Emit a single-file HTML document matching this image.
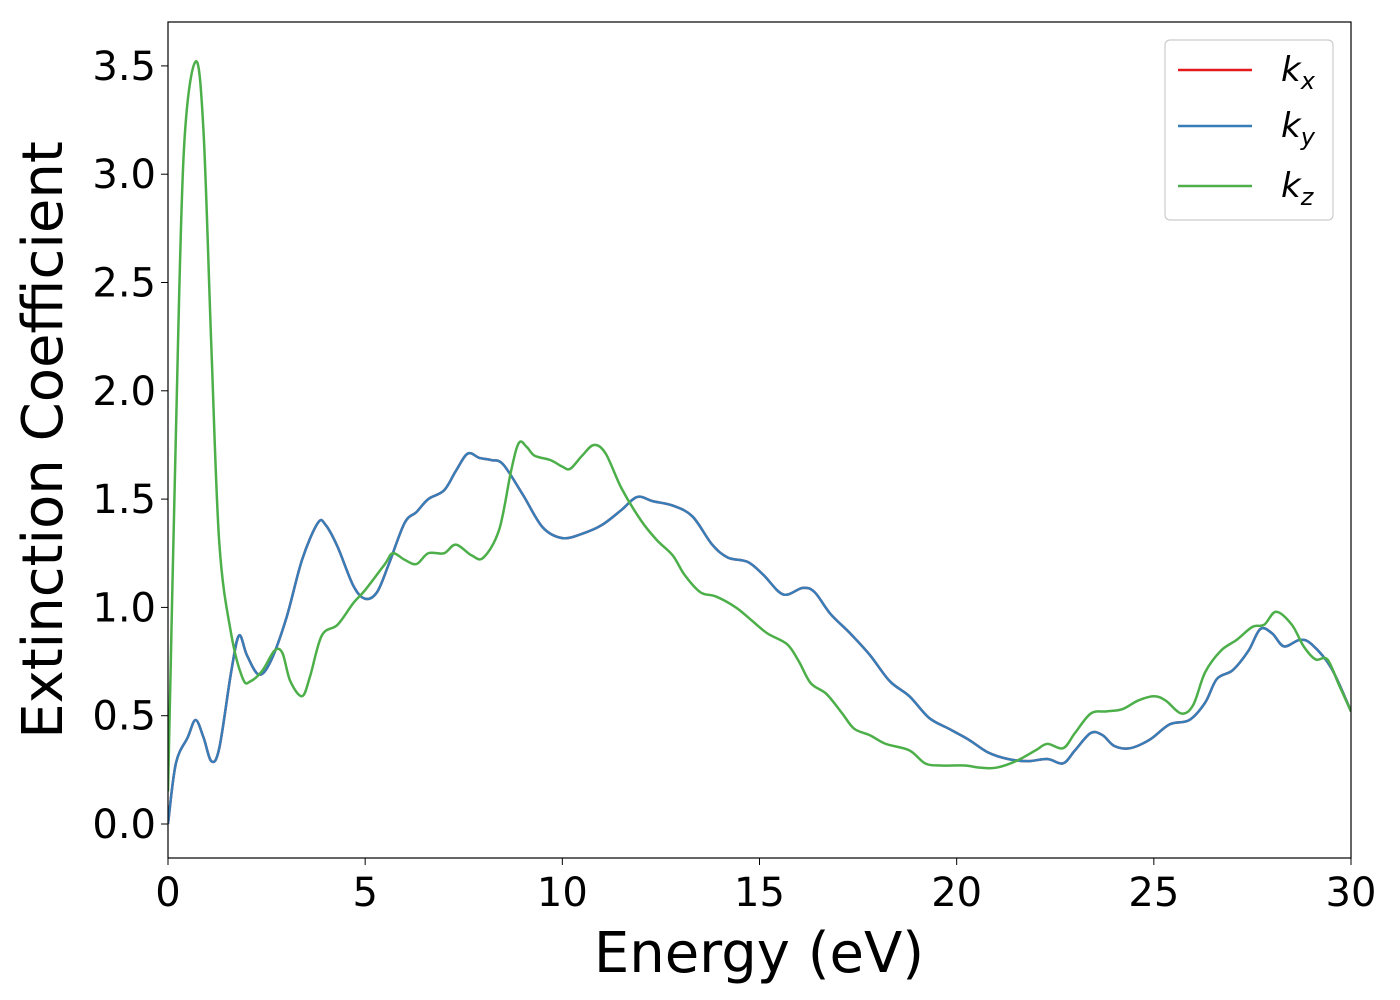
<!DOCTYPE html>
<html><head><meta charset="utf-8"><style>
html,body{margin:0;padding:0;background:#fff;}
svg{display:block;font-family:"DejaVu Sans","Liberation Sans",sans-serif;}
</style></head><body>
<svg id="chart" width="1400" height="1000" viewBox="0 0 1400 1000">
<rect x="0" y="0" width="1400" height="1000" fill="#fff"/>
<g id="plot"></g>
<rect x="168" y="22" width="1183" height="836" fill="none" stroke="#000" stroke-width="1.2"/>
<g id="xticks"></g>
<g id="yticks"></g>
<text x="759" y="972" font-size="56" text-anchor="middle">Energy (eV)</text>
<text x="0" y="0" font-size="56" text-anchor="middle" transform="translate(62,440) rotate(-90)">Extinction Coefficient</text>
<g>
<rect x="1165" y="40" width="168" height="180" rx="5" fill="#fff" stroke="#ccc" stroke-width="1.2"/>
<line x1="1178" y1="70" x2="1252" y2="70" stroke="#e41a1c" stroke-width="2.5"/>
<text x="1281" y="81" font-size="34" font-style="italic">k<tspan font-size="24" dy="8">x</tspan></text>
<line x1="1178" y1="126" x2="1252" y2="126" stroke="#377eb8" stroke-width="2.5"/>
<text x="1281" y="137" font-size="34" font-style="italic">k<tspan font-size="24" dy="8">y</tspan></text>
<line x1="1178" y1="186" x2="1252" y2="186" stroke="#4daf4a" stroke-width="2.5"/>
<text x="1281" y="197" font-size="34" font-style="italic">k<tspan font-size="24" dy="8">z</tspan></text>
</g>
</svg>
<script>
const xTicks=[0,5,10,15,20,25,30];
const yTicks=[0.0,0.5,1.0,1.5,2.0,2.5,3.0,3.5];
const xyE=[0,0.2,0.5,0.7,0.9,1.1,1.3,1.6,1.8,2.0,2.3,2.6,3.0,3.4,3.8,4.0,4.3,4.7,5.0,5.3,5.6,6.0,6.3,6.6,7.0,7.3,7.6,7.9,8.2,8.5,9.0,9.5,10.0,10.5,11.0,11.5,11.9,12.3,12.8,13.3,13.8,14.2,14.7,15.1,15.6,16.1,16.4,16.8,17.3,17.8,18.3,18.8,19.3,19.8,20.3,20.8,21.3,21.8,22.3,22.7,23.0,23.4,23.7,24.0,24.4,24.9,25.4,25.9,26.3,26.6,27.0,27.4,27.7,28.0,28.3,28.7,29.0,29.5,30];
const kxy=[0,0.28,0.4,0.48,0.4,0.29,0.35,0.7,0.87,0.78,0.69,0.75,0.95,1.22,1.39,1.38,1.28,1.10,1.04,1.07,1.2,1.39,1.44,1.50,1.54,1.63,1.71,1.69,1.68,1.66,1.52,1.37,1.32,1.34,1.38,1.45,1.51,1.49,1.47,1.42,1.29,1.23,1.21,1.15,1.06,1.09,1.07,0.97,0.88,0.78,0.66,0.59,0.49,0.44,0.39,0.33,0.30,0.29,0.30,0.28,0.34,0.42,0.41,0.36,0.35,0.39,0.46,0.48,0.56,0.67,0.71,0.80,0.90,0.88,0.82,0.85,0.83,0.72,0.52];
const zE=[0,0.2,0.4,0.7,0.9,1.1,1.3,1.6,1.9,2.1,2.4,2.7,2.9,3.1,3.4,3.6,3.9,4.3,4.7,5.0,5.5,5.7,6.0,6.3,6.6,7.0,7.3,7.7,8.0,8.4,8.7,8.9,9.1,9.3,9.7,10.0,10.2,10.5,10.8,11.1,11.5,12.0,12.4,12.8,13.1,13.5,13.9,14.4,14.8,15.2,15.7,16.0,16.3,16.7,17.1,17.4,17.8,18.2,18.8,19.2,19.6,20.2,20.6,21.0,21.5,22.0,22.3,22.7,23.0,23.4,23.8,24.2,24.6,25.0,25.3,25.7,26.0,26.3,26.7,27.1,27.5,27.8,28.1,28.5,28.8,29.1,29.4,29.7,30];
const kz=[0.15,1.8,3.1,3.52,3.2,2.2,1.3,0.88,0.67,0.66,0.71,0.80,0.79,0.66,0.59,0.68,0.87,0.92,1.02,1.08,1.2,1.25,1.22,1.2,1.25,1.25,1.29,1.24,1.23,1.36,1.63,1.76,1.74,1.70,1.68,1.65,1.64,1.70,1.75,1.71,1.55,1.40,1.31,1.24,1.15,1.07,1.05,1.00,0.94,0.88,0.83,0.75,0.65,0.60,0.51,0.44,0.41,0.37,0.34,0.28,0.27,0.27,0.26,0.26,0.29,0.34,0.37,0.35,0.42,0.51,0.52,0.53,0.57,0.59,0.57,0.51,0.55,0.70,0.80,0.85,0.91,0.92,0.98,0.92,0.82,0.76,0.76,0.64,0.52];
const NS="http://www.w3.org/2000/svg";
const X=v=>168+v*(1183/30);
const Y=v=>824-v*216.6;
function path(xs,ys){
  const p=xs.map((x,i)=>[X(x),Y(ys[i])]);
  let d="M"+p[0][0]+","+p[0][1];
  for(let i=0;i<p.length-1;i++){
    const p0=p[Math.max(i-1,0)],p1=p[i],p2=p[i+1],p3=p[Math.min(i+2,p.length-1)];
    const c1=[p1[0]+(p2[0]-p0[0])/6,p1[1]+(p2[1]-p0[1])/6];
    const c2=[p2[0]-(p3[0]-p1[0])/6,p2[1]-(p3[1]-p1[1])/6];
    d+=" C"+c1+" "+c2+" "+p2;
  }
  return d;
}
const plot=document.getElementById('plot');
function addLine(xs,ys,color,name){
  const el=document.createElementNS(NS,'path');
  el.setAttribute('d',path(xs,ys));
  el.setAttribute('fill','none');el.setAttribute('stroke',color);el.setAttribute('stroke-width','2.5');
  
  
  plot.appendChild(el);
}
const cp=document.createElementNS(NS,'clipPath');cp.id='clip';
const cr=document.createElementNS(NS,'rect');cr.setAttribute('x',168);cr.setAttribute('y',22);cr.setAttribute('width',1183);cr.setAttribute('height',836);
cp.appendChild(cr);document.getElementById('chart').appendChild(cp);
plot.setAttribute('clip-path','url(#clip)');
addLine(xyE,kxy,'#e41a1c','series-kx');
addLine(xyE,kxy,'#377eb8','series-ky');
addLine(zE,kz,'#4daf4a','series-kz');
const xg=document.getElementById('xticks');
xTicks.forEach(t=>{
  const l=document.createElementNS(NS,'line');
  l.setAttribute('x1',X(t));l.setAttribute('x2',X(t));l.setAttribute('y1',858);l.setAttribute('y2',865);l.setAttribute('stroke','#000');
  
  
  xg.appendChild(l);
  const tx=document.createElementNS(NS,'text');
  tx.setAttribute('x',X(t));tx.setAttribute('y',906);tx.setAttribute('font-size','40');tx.setAttribute('text-anchor','middle');
  tx.textContent=t;
  
  
  xg.appendChild(tx);
});
const yg=document.getElementById('yticks');
yTicks.forEach(t=>{
  const l=document.createElementNS(NS,'line');
  l.setAttribute('x1',161);l.setAttribute('x2',168);l.setAttribute('y1',Y(t));l.setAttribute('y2',Y(t));l.setAttribute('stroke','#000');
  
  
  yg.appendChild(l);
  const tx=document.createElementNS(NS,'text');
  tx.setAttribute('x',156);tx.setAttribute('y',Y(t)+14);tx.setAttribute('font-size','40');tx.setAttribute('text-anchor','end');
  tx.textContent=t.toFixed(1);
  
  
  yg.appendChild(tx);
});
</script>
</body></html>
